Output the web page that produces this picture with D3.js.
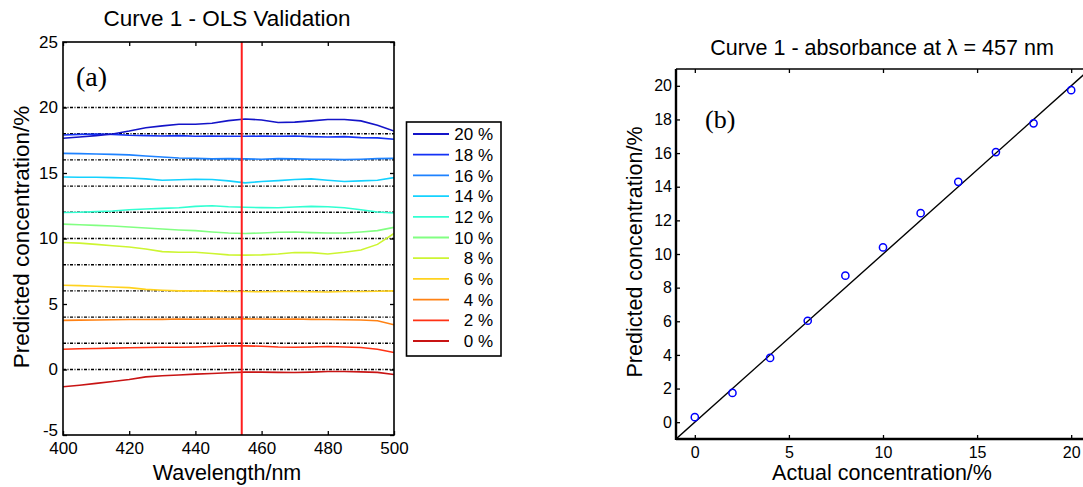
<!DOCTYPE html>
<html>
<head>
<meta charset="utf-8">
<script src="https://cdn.jsdelivr.net/npm/d3@7"></script>
<style>
  html, body { margin: 0; padding: 0; background: #fff; }
  svg { display: block; }
  text { font-family: "Liberation Sans", Arial, sans-serif; fill: #000; }
</style>
</head>
<body>
<svg id="chart" width="1083" height="487"></svg>
<script>
// ---------------- DATA ----------------
const wavelengths = [400,405,410,415,420,425,430,435,440,445,450,455,460,465,470,475,480,485,490,495,500];
const seriesLabels = ["0 %","2 %","4 %","6 %","8 %","10 %","12 %","14 %","16 %","18 %","20 %"];
const seriesColors = ["#c81414","#ff3214","#ff8214","#ffd21e","#cdf532","#82ff82","#32ffd2","#14d2ff","#1e82ff","#1432f5","#1414c8"];
const pred0  = [-1.32,-1.2,-1.06,-0.92,-0.76,-0.56,-0.48,-0.42,-0.35,-0.3,-0.25,-0.2,-0.2,-0.22,-0.23,-0.2,-0.15,-0.15,-0.18,-0.22,-0.38];
const pred2  = [1.55,1.58,1.6,1.63,1.66,1.68,1.7,1.7,1.72,1.75,1.8,1.8,1.78,1.72,1.7,1.72,1.75,1.72,1.68,1.55,1.3];
const pred4  = [3.75,3.77,3.78,3.8,3.82,3.82,3.83,3.85,3.84,3.85,3.86,3.87,3.85,3.84,3.85,3.83,3.82,3.8,3.78,3.72,3.42];
const pred6  = [6.43,6.4,6.35,6.3,6.25,6.12,6.05,6.0,6.0,5.98,5.95,5.95,5.93,5.95,5.95,5.93,5.92,5.95,5.95,5.97,6.0];
const pred8  = [9.7,9.65,9.55,9.45,9.35,9.2,9.0,8.95,8.95,8.85,8.75,8.73,8.75,8.82,8.93,8.92,8.82,8.95,9.12,9.55,10.38];
const pred10 = [11.1,11.05,11.0,10.95,10.88,10.8,10.72,10.65,10.6,10.5,10.42,10.38,10.42,10.48,10.5,10.45,10.42,10.42,10.5,10.6,10.85];
const pred12 = [11.98,12.0,12.05,12.1,12.2,12.25,12.3,12.35,12.45,12.5,12.42,12.38,12.36,12.35,12.4,12.45,12.42,12.35,12.2,12.02,11.95];
const pred14 = [14.7,14.68,14.68,14.65,14.62,14.55,14.45,14.48,14.52,14.5,14.4,14.25,14.35,14.42,14.5,14.55,14.45,14.35,14.4,14.45,14.65];
const pred16 = [16.5,16.48,16.45,16.42,16.38,16.3,16.22,16.15,16.12,16.08,16.1,16.08,16.05,16.1,16.08,16.05,16.05,16.02,16.05,16.1,16.12];
const pred18 = [17.9,17.95,17.98,17.95,17.88,17.85,17.82,17.85,17.8,17.82,17.8,17.8,17.82,17.8,17.82,17.78,17.75,17.78,17.7,17.68,17.58];
const pred20 = [17.65,17.75,17.85,17.98,18.2,18.45,18.6,18.72,18.72,18.8,19.0,19.12,19.05,18.85,18.88,18.98,19.08,19.08,18.98,18.65,18.2];
const seriesValues = [pred0,pred2,pred4,pred6,pred8,pred10,pred12,pred14,pred16,pred18,pred20];
const referenceLevels = [0,2,4,6,8,10,12,14,16,18,20];
const markerWavelength = 454;

const actualConc = [0,2,4,6,8,10,12,14,16,18,20];
const predictedConc = [0.3,1.74,3.82,6.03,8.71,10.39,12.43,14.29,16.06,17.77,19.74];
const fitSlope = 1.0, fitIntercept = 0.0;

const leftXTicks = [400,420,440,460,480,500];
const leftYTicks = [-5,0,5,10,15,20,25];
const rightXTicks = [0,5,10,15,20];
const rightYTicks = [0,2,4,6,8,10,12,14,16,18,20];

// ---------------- DRAW ----------------
const svg = d3.select("#chart");
const fmt = d => String(d);

// ===== Left panel =====
const L = {x0: 63, x1: 394, y0: 42, y1: 435};
const xL = d3.scaleLinear().domain([400,500]).range([L.x0, L.x1]);
const yL = d3.scaleLinear().domain([-5,25]).range([L.y1, L.y0]);

svg.append("defs").append("clipPath").attr("id","clipL")
  .append("rect").attr("x",L.x0).attr("y",L.y0).attr("width",L.x1-L.x0).attr("height",L.y1-L.y0);

const gL = svg.append("g");
gL.selectAll(".ref").data(referenceLevels).join("line")
  .attr("x1", L.x0).attr("x2", L.x1)
  .attr("y1", d => yL(d)).attr("y2", d => yL(d))
  .attr("stroke", "#000").attr("stroke-width", 1.4)
  .attr("stroke-dasharray", "3,1.5,1,1.5");

const lineGen = d3.line().x((d,i) => xL(wavelengths[i])).y(d => yL(d)).curve(d3.curveLinear);
gL.append("g").attr("clip-path","url(#clipL)")
  .selectAll("path").data(seriesValues).join("path")
  .attr("d", d => lineGen(d))
  .attr("fill","none")
  .attr("stroke", (d,i) => seriesColors[i])
  .attr("stroke-width", 1.6);

gL.append("line")
  .attr("x1", xL(markerWavelength)).attr("x2", xL(markerWavelength))
  .attr("y1", L.y0).attr("y2", L.y1)
  .attr("stroke", "#ff1e1e").attr("stroke-width", 2);

function styleAxis(g, fs) {
  g.selectAll(".domain").remove();
  g.selectAll(".tick line").attr("stroke","#000").attr("stroke-width",1.3);
  g.selectAll(".tick text").attr("font-size", fs).attr("fill","#000")
    .attr("font-family", '"Liberation Sans", Arial, sans-serif');
}
const axLB = svg.append("g").attr("transform",`translate(0,${L.y1})`)
  .call(d3.axisBottom(xL).tickValues(leftXTicks).tickSize(-4).tickPadding(7).tickFormat(fmt));
styleAxis(axLB, 17);
const axLT = svg.append("g").attr("transform",`translate(0,${L.y0})`)
  .call(d3.axisTop(xL).tickValues(leftXTicks).tickSize(-4).tickFormat(""));
styleAxis(axLT, 17);
const axLL = svg.append("g").attr("transform",`translate(${L.x0},0)`)
  .call(d3.axisLeft(yL).tickValues(leftYTicks).tickSize(-4).tickPadding(5).tickFormat(fmt));
styleAxis(axLL, 17);
axLL.selectAll(".tick text").filter(d => d === -5).attr("dy", "0.05em");
const axLR = svg.append("g").attr("transform",`translate(${L.x1},0)`)
  .call(d3.axisRight(yL).tickValues(leftYTicks).tickSize(-4).tickFormat(""));
styleAxis(axLR, 17);

svg.append("rect").attr("x",L.x0).attr("y",L.y0).attr("width",L.x1-L.x0).attr("height",L.y1-L.y0)
  .attr("fill","none").attr("stroke","#000").attr("stroke-width",1.6);

svg.append("text").attr("x", 227).attr("y", 26).attr("text-anchor","middle")
  .attr("font-size", 22.5).text("Curve 1 - OLS Validation");
svg.append("text").attr("x", 227).attr("y", 480).attr("text-anchor","middle")
  .attr("font-size", 21.5).text("Wavelength/nm");
svg.append("text").attr("transform","translate(29,237) rotate(-90)").attr("text-anchor","middle")
  .attr("font-size", 22.5).text("Predicted concentration/%");
svg.append("text").attr("x", 76).attr("y", 86)
  .style("font-family",'"Liberation Serif", "Times New Roman", serif').attr("font-size", 28).text("(a)");

// legend
const leg = {x0: 406.5, y0: 122, x1: 501, y1: 356, first: 134, step: 20.7};
svg.append("rect").attr("x",leg.x0).attr("y",leg.y0).attr("width",leg.x1-leg.x0).attr("height",leg.y1-leg.y0)
  .attr("fill","#fff").attr("stroke","#000").attr("stroke-width",1.6);
const legOrder = d3.range(seriesLabels.length).reverse();
const legG = svg.append("g").selectAll("g").data(legOrder).join("g")
  .attr("transform", (d,k) => `translate(0,${leg.first + k*leg.step})`);
legG.append("line").attr("x1", 413).attr("x2", 449).attr("y1",0).attr("y2",0)
  .attr("stroke", d => seriesColors[d]).attr("stroke-width", 1.8);
legG.append("text").attr("x", 493).attr("y", 0).attr("dy","0.36em").attr("text-anchor","end")
  .attr("font-size", 17).text(d => seriesLabels[d]);

// ===== Right panel =====
const R = {x0: 676, x1: 1090, y0: 69, y1: 439};
const xR = d3.scaleLinear().domain([-1,21]).range([R.x0, R.x1]);
const yR = d3.scaleLinear().domain([-1,21]).range([R.y1, R.y0]);

svg.select("defs").append("clipPath").attr("id","clipR")
  .append("rect").attr("x",R.x0).attr("y",R.y0).attr("width",R.x1-R.x0).attr("height",R.y1-R.y0);

const axRB = svg.append("g").attr("transform",`translate(0,${R.y1})`)
  .call(d3.axisBottom(xR).tickValues(rightXTicks).tickSize(-4).tickPadding(8).tickFormat(fmt));
styleAxis(axRB, 16);
const axRT = svg.append("g").attr("transform",`translate(0,${R.y0})`)
  .call(d3.axisTop(xR).tickValues(rightXTicks).tickSize(-4).tickFormat(""));
styleAxis(axRT, 16);
const axRL = svg.append("g").attr("transform",`translate(${R.x0},0)`)
  .call(d3.axisLeft(yR).tickValues(rightYTicks).tickSize(-4).tickPadding(4).tickFormat(fmt));
styleAxis(axRL, 16);

const fitX = [-1, 21];
svg.append("g").attr("clip-path","url(#clipR)").append("path")
  .attr("d", d3.line().x(d => xR(d)).y(d => yR(fitSlope*d + fitIntercept))(fitX))
  .attr("fill","none").attr("stroke","#000").attr("stroke-width",1.4);

svg.append("g").selectAll("circle").data(actualConc).join("circle")
  .attr("cx", d => xR(d)).attr("cy", (d,i) => yR(predictedConc[i])).attr("r", 3.6)
  .attr("fill","none").attr("stroke","#0000ff").attr("stroke-width",1.5);

svg.append("line").attr("x1",R.x0).attr("x2",R.x0).attr("y1",R.y0).attr("y2",R.y1+1)
  .attr("stroke","#000").attr("stroke-width",2.4);
svg.append("line").attr("x1",R.x0).attr("x2",R.x1).attr("y1",R.y1).attr("y2",R.y1)
  .attr("stroke","#000").attr("stroke-width",2.4);
svg.append("line").attr("x1",R.x0).attr("x2",R.x1).attr("y1",R.y0).attr("y2",R.y0)
  .attr("stroke","#000").attr("stroke-width",1.6);
svg.append("line").attr("x1",R.x1).attr("x2",R.x1).attr("y1",R.y0).attr("y2",R.y1)
  .attr("stroke","#000").attr("stroke-width",1.6);

svg.append("text").attr("x", 882).attr("y", 55).attr("text-anchor","middle")
  .attr("font-size", 21.5).text("Curve 1 - absorbance at λ = 457 nm");
svg.append("text").attr("x", 882).attr("y", 480).attr("text-anchor","middle")
  .attr("font-size", 21.5).text("Actual concentration/%");
svg.append("text").attr("transform","translate(642,252) rotate(-90)").attr("text-anchor","middle")
  .attr("font-size", 21.5).text("Predicted concentration/%");
svg.append("text").attr("x", 705).attr("y", 128)
  .style("font-family",'"Liberation Serif", "Times New Roman", serif').attr("font-size", 26).text("(b)");
</script>
</body>
</html>
